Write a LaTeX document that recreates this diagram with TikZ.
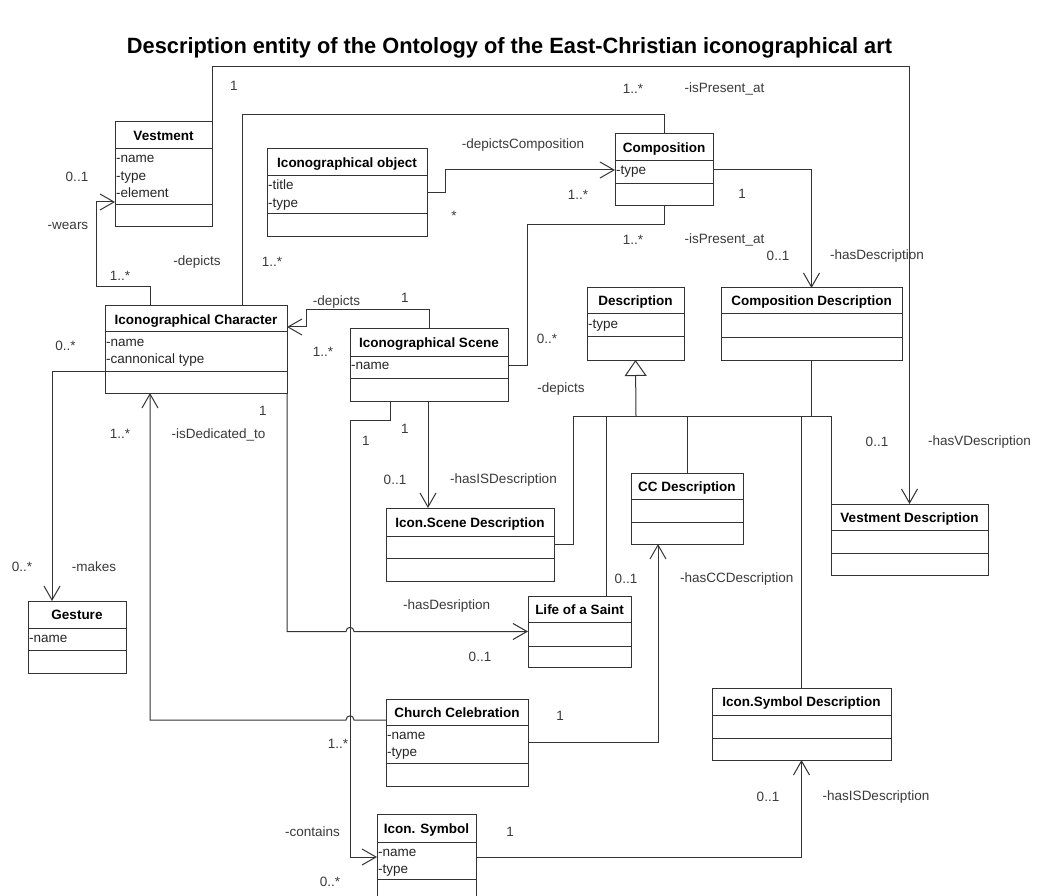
\documentclass[tikz,border=0pt]{standalone}
\usepackage{fontspec}
\setmainfont{Liberation Sans}
\usetikzlibrary{arrows.meta,fit}
\definecolor{ln}{HTML}{333333}
\definecolor{lt}{HTML}{3A3A3A}
\tikzset{
 cls/.style={draw=ln, line width=1pt, inner sep=0pt, outer sep=0pt},
 ttl/.style={font=\fontsize{13.5}{16}\selectfont\bfseries, inner sep=0pt, anchor=base, text=black},
 att/.style={font=\fontsize{13.5}{16}\selectfont, inner sep=0pt, anchor=base west, text=black!85},
 lbl/.style={font=\fontsize{13.5}{16}\selectfont, inner sep=0pt, text=lt},
 conn/.style={draw=ln, line width=1pt},
 arr/.style={conn, -{Straight Barb[length=14pt,width=16pt,line width=1pt]}},
 gen/.style={conn, -{Triangle[open,length=16pt,width=22pt,line width=1pt,fill=white]}},
}
% name, left, top, right, bottom, header line, divider, title
\newcommand\umlclsE[8]{%
 \node[cls, fit={(#2,#3) (#4,#5)}] (#1) {};
 \draw[conn] (#2,#6) -- (#4,#6) (#2,#7) -- (#4,#7);
 \node[ttl] (#1-t) at ({(#2+#4)/2},{(#3+#6)/2+5}) {#8};
}
\newcommand\umlcls[9]{%
 \umlclsE{#1}{#2}{#3}{#4}{#5}{#6}{#7}{#8}%
 \foreach \a [count=\i] in {#9} {\node[att] (#1-a\i) at (#2+1,{#6+14+(\i-1)*17.3}) {\a};}
}
\begin{document}
\begin{tikzpicture}[x=1pt,y=-1pt]
\useasboundingbox (0,0) rectangle (1037,896);
\fill[white] (0,0) rectangle (1037,896);

\node[inner sep=0pt, font=\bfseries, anchor=base] (title) at (509.5,54)
 {\resizebox{765pt}{16pt}{Description entity of the Ontology of the East-Christian iconographical art}};

% classes
\umlcls{vest}{115}{122}{212}{227}{149}{205}{Vestment}{-name,-type,-element}
\umlcls{obj}{267}{149}{427}{237}{176}{214}{Iconographical object}{-title,-type}
\umlcls{comp}{615}{134}{713}{206}{161}{184}{Composition}{-type}
\umlcls{char}{105}{306}{287}{393}{332}{371}{Iconographical Character}{-name,-cannonical type}
\umlcls{scene}{350}{329}{508}{401}{356}{378}{Iconographical Scene}{-name}
\umlcls{desc}{587}{288}{684}{360}{314}{337}{Description}{-type}
\umlclsE{cdesc}{721}{288}{902}{360}{314}{338}{Composition Description}
\umlclsE{isd}{386}{508}{554}{581}{536}{558}{Icon.Scene Description}
\umlclsE{ccd}{631}{473}{743}{544}{499}{522}{CC Description}
\umlclsE{vd}{831}{504}{988}{575}{530}{553}{Vestment Description}
\umlcls{gest}{28}{601}{126}{673}{628}{650}{Gesture}{-name}
\umlclsE{life}{528}{596}{631}{667}{622}{646}{Life of a Saint}
\umlcls{cc}{386}{699}{528}{786}{725}{763}{Church Celebration}{-name,-type}
\umlclsE{isymd}{712}{688}{891}{760}{715}{738}{Icon.Symbol Description}
\umlcls{isym}{377}{814}{476}{897}{842}{879}{Icon. Symbol}{-name,-type}

% connectors
\draw[arr] (vest.north east) -- (212,67) -| (vd.north);
\draw[conn] (comp.north) -- (664,115) -| (char.north -| 242,0);
\draw[arr] (obj.east) -- (445,193) |- (comp.west);
\draw[arr] (comp.east) -| (cdesc.north);
\draw[conn] (comp.south) |- (527,225) |- (scene.east);
\draw[arr] (char.north -| 150,0) -- (150,287) -| (96,202) -- (vest.west |- 0,202);
\draw[arr] (scene.north -| 429,0) -- (429,310) -| (306,327) -- (char.east |- 0,327);
\draw[arr] (scene.south -| 428,0) -- (isd.north -| 428,0);
\draw[arr] (scene.south -| 390,0) -- (390,420) -| (350,857) -- (isym.west |- 0,857);
\draw[arr] (char.south east) -- (287,631.5) -- (346,631.5)
 .. controls (346,626) and (354,626) .. (354,631.5) -- (life.west);
\draw[arr] (cc.west |- 0,720) -- (354,720)
 .. controls (354,714.5) and (346,714.5) .. (346,720) -- (150,720) -- (char.south -| 150,0);
\draw[arr] (cc.east) -| (ccd.south -| 658,0);
\draw[arr] (isym.east |- 0,857) -| (isymd.south);
\draw[arr] (char.west |- 0,371) -- (52,371) -- (gest.north -| 52,0);

% generalization
\draw[gen] (636,416) -- (desc.south);
\draw[conn] (isd.east) -| (573,416) -- (831,416) -- (vd.north west);
\draw[conn] (life.north -| 606,0) -- (606,416);
\draw[conn] (ccd.north) -- (ccd.north |- 0,416);
\draw[conn] (isymd.north) -- (isymd.north |- 0,416);
\draw[conn] (cdesc.south) -- (cdesc.south |- 0,416);

% labels
\node[lbl] (l1) at (234,86) {1};
\node[lbl] (l2) at (633,89) {1..*};
\node[lbl] (l3) at (724.5,89) {-isPresent\_at};
\node[lbl] (l4) at (523,145) {-depictsComposition};
\node[lbl] (l5) at (578,195) {1..*};
\node[lbl] (l6) at (454,216) {*};
\node[lbl] (l7) at (742,194) {1};
\node[lbl] (l8) at (633,240) {1..*};
\node[lbl] (l9) at (724.5,240) {-isPresent\_at};
\node[lbl] (l10) at (778,256) {0..1};
\node[lbl, anchor=west] (l11) at (830,256) {-hasDescription};
\node[lbl] (l12) at (77,177) {0..1};
\node[lbl] (l13) at (68,226) {-wears};
\node[lbl] (l14) at (120,276) {1..*};
\node[lbl] (l15) at (197,262) {-depicts};
\node[lbl] (l16) at (272,262) {1..*};
\node[lbl] (l17) at (336.5,302) {-depicts};
\node[lbl] (l18) at (405,298) {1};
\node[lbl] (l19) at (323,352) {1..*};
\node[lbl] (l20) at (547,339) {0..*};
\node[lbl] (l21) at (561,389) {-depicts};
\node[lbl] (l22) at (65.5,346) {0..*};
\node[lbl] (l23) at (263,411) {1};
\node[lbl] (l24) at (120,434) {1..*};
\node[lbl] (l25) at (218.5,435) {-isDedicated\_to};
\node[lbl] (l26) at (405,429) {1};
\node[lbl] (l27) at (366,441) {1};
\node[lbl] (l28) at (395,480) {0..1};
\node[lbl] (l29) at (503.5,480) {-hasISDescription};
\node[lbl] (l30) at (877,441.7) {0..1};
\node[lbl, anchor=west] (l31) at (928,441.7) {-hasVDescription};
\node[lbl] (l32) at (22,567) {0..*};
\node[lbl] (l33) at (94,567) {-makes};
\node[lbl] (l34) at (626,579) {0..1};
\node[lbl] (l35) at (736.7,579) {-hasCCDescription};
\node[lbl] (l36) at (446.7,606) {-hasDesription};
\node[lbl] (l37) at (480,657) {0..1};
\node[lbl] (l38) at (560,716) {1};
\node[lbl] (l39) at (338,744) {1..*};
\node[lbl] (l40) at (768,797) {0..1};
\node[lbl] (l41) at (876,797) {-hasISDescription};
\node[lbl] (l42) at (510,832) {1};
\node[lbl] (l43) at (312.5,832) {-contains};
\node[lbl] (l44) at (330,882) {0..*};
\end{tikzpicture}
\end{document}
